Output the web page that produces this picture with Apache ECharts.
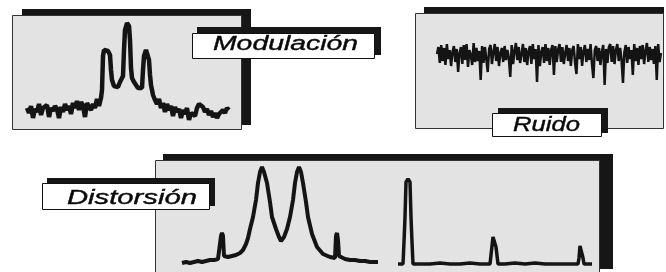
<!DOCTYPE html>
<html>
<head>
<meta charset="utf-8">
<script src="https://cdn.jsdelivr.net/npm/echarts@6/dist/echarts.min.js"></script>
<style>html,body{margin:0;padding:0;background:#fff}#c{width:666px;height:272px}</style>
</head>
<body>
<div id="c"></div>
<script>
// Panel titles
const titles = ['Modulación', 'Ruido', 'Distorsión'];

// Modulación trace: [frequency, amplitude]
const modulacionTrace = [
 [27,22],[29,17],[31,24],[33,12],[35,21],[37,18],[39,26],[41,15],[43,22],[45,20],[47,25],[49,13],[51,22],[53,19],[55,24],[57,21],[59,12],[61,23],[63,18],[65,26],[67,20],[69,24],[71,16],[73,27],[75,22],[77,29],[79,20],[81,28],[83,24],[85,13],[87,27],[89,23],[91,20],[93,26],[95,22],[97,31],[99,24],[101,32],[102,40],[103,74],[104,80],[106,82],[108,79],[110,75],[111,60],[112,50],[114,44],[116,46],[118,43],[120,48],[122,50],[123,54],[124,80],[125,100],[127,107],[129,104],[130,90],[131,62],[132,52],[134,48],[136,46],[138,42],[140,40],[142,42],[143,60],[144,74],[146,80],[148,78],[149,70],[150,55],[151,45],[153,35],[155,30],[157,26],[159,31],[161,22],[163,27],[165,18],[167,26],[169,20],[171,24],[173,14],[175,23],[177,18],[179,21],[181,12],[183,20],[185,16],[187,22],[189,10],[191,17],[193,19],[195,14],[197,22],[199,26],[201,24],[203,23],[205,18],[207,21],[209,15],[211,19],[213,13],[215,17],[217,12],[219,16],[221,14],[223,20],[225,17],[227,22],[229,20]
];

// Ruido trace: amplitude samples (evenly spaced in time)
const ruidoTrace = [
 2,9,-7,11,-5,8,-9,12,-3,6,
 -10,4,10,-6,7,-16,3,9,-8,11,
 -4,12,-11,6,1,-9,13,-6,8,-5,
 5,-24,10,-7,9,-3,-16,7,11,-8,
 4,12,-5,9,-10,3,8,-6,10,-4,
 6,-2,-21,11,-8,5,13,-4,9,-7,
 2,12,-6,8,-9,5,10,-8,12,-3,
 7,-26,11,-10,4,9,-7,12,-5,8,
 -9,6,11,-19,10,-6,7,12,-6,9,
 -8,3,11,-5,8,-10,6,10,-7,-18,
 12,-3,9,-10,5,11,-6,7,-4,12,
 -8,-22,6,10,-5,8,-9,4,11,-29,
 7,-7,9,12,-6,10,-8,6,12,-5,
 8,-4,-27,4,11,-7,9,-3,6,-19,
 12,-5,8,-9,10,-3,11,-8,5,13,
 -6,9,-4,7,-8,10,-24,12,-6,3
];

// Distorsión: two-tone intermodulation spectrum [frequency, amplitude]
const distorsionTwoTone = [
 [182,9],[186,10],[190,9],[194,10],[198,11],[202,10],[206,11],[210,12],[214,12],[218,13],[220,14],[221,36],[222,39],[223,36],[224,16],[228,15],[232,16],[236,17],[240,19],[243,22],[246,28],[248,34],[250,43],[253,55],[256,72],[258,89],[260,100],[262,105],[264,100],[267,89],[270,70],[272,55],[276,43],[279,35],[281,31],[284,35],[287,43],[290,55],[293,72],[295,89],[297,100],[299,105],[301,100],[303,89],[306,70],[308,55],[312,38],[317,25],[323,18],[330,15],[335,14],[336,36],[337,39],[338,32],[339,16],[345,13],[350,12],[355,12],[360,11],[365,11],[370,10],[378,10]
];

// Distorsión: harmonic spectrum [frequency, amplitude]
const distorsionHarmonics = [
 [398,8],[403,8],[404,30],[405,55],[406,90],[408,93],[410,90],[411,55],[412,30],[413,8],[420,8],[430,8],[440,9],[450,8],[460,8],[470,9],[480,8],[490,8],[492,8],[493,35],[495,35],[496,25],[497,25],[498,8],[505,8],[515,9],[525,8],[535,9],[545,8],[555,8],[565,8],[578,8],[579,14],[580,26],[582,26],[583,14],[584,8],[592,8]
];

const chart = echarts.init(document.getElementById('c'), null, {renderer: 'canvas'});

function measure(text, font) {
  const cv = document.createElement('canvas').getContext('2d');
  cv.font = font;
  return cv.measureText(text).width;
}

const labelSpecs = [
  {text: titles[0], x: 213, y: 44.5, w: 145, size: 20},
  {text: titles[1], x: 513, y: 125.5, w: 67, size: 20},
  {text: titles[2], x: 67, y: 198, w: 130, size: 21}
];

const dark = '#161616';
const panelFill = '#e3e3e3';
const graphics = [
  // panel shadows
  {type: 'rect', z: 0, shape: {x: 22, y: 9, width: 229, height: 116}, style: {fill: dark}},
  {type: 'rect', z: 0, shape: {x: 424, y: 7, width: 240, height: 116}, style: {fill: dark}},
  {type: 'rect', z: 0, shape: {x: 163, y: 154, width: 450, height: 115}, style: {fill: dark}},
  // panels
  {type: 'rect', z: 1, shape: {x: 12.5, y: 15.5, width: 229, height: 114}, style: {fill: panelFill, stroke: '#333', lineWidth: 1}},
  {type: 'rect', z: 1, shape: {x: 415.5, y: 13.5, width: 248, height: 115}, style: {fill: panelFill, stroke: '#333', lineWidth: 1}},
  {type: 'rect', z: 1, shape: {x: 155.5, y: 160.5, width: 444, height: 120}, style: {fill: panelFill, stroke: '#333', lineWidth: 1}},
  // label shadows
  {type: 'rect', z: 10, shape: {x: 197, y: 27, width: 184, height: 28}, style: {fill: dark}},
  {type: 'rect', z: 10, shape: {x: 498, y: 108, width: 110, height: 25}, style: {fill: dark}},
  {type: 'rect', z: 10, shape: {x: 47, y: 178, width: 168, height: 28}, style: {fill: dark}},
  // label boxes
  {type: 'rect', z: 11, shape: {x: 192.5, y: 33.5, width: 182, height: 25}, style: {fill: '#fff', stroke: '#111', lineWidth: 1}},
  {type: 'rect', z: 11, shape: {x: 492.5, y: 113.5, width: 109, height: 23}, style: {fill: '#fff', stroke: '#111', lineWidth: 1}},
  {type: 'rect', z: 11, shape: {x: 42.5, y: 183.5, width: 167, height: 26}, style: {fill: '#fff', stroke: '#111', lineWidth: 1}}
];
labelSpecs.forEach(function (s) {
  const font = 'italic ' + s.size + 'px "Liberation Sans", Arial, sans-serif';
  const sx = s.w / measure(s.text, font);
  graphics.push({
    type: 'text', z: 12, x: s.x, y: s.y, scaleX: sx,
    style: {text: s.text, x: 0, y: 0, font: font, fill: '#0a0a0a', stroke: '#0a0a0a', lineWidth: 0.4, verticalAlign: 'middle', align: 'left'}
  });
});

const option = {
  animation: false,
  backgroundColor: '#fff',
  grid: [
    {left: 12, top: 15, width: 230, height: 115},
    {left: 437, top: 13, width: 224, height: 116},
    {left: 155, top: 160, width: 445, height: 112}
  ],
  xAxis: [
    {gridIndex: 0, type: 'value', min: 12, max: 242, show: false},
    {gridIndex: 1, type: 'category', boundaryGap: false, show: false},
    {gridIndex: 2, type: 'value', min: 155, max: 600, show: false}
  ],
  yAxis: [
    {gridIndex: 0, type: 'value', min: 0, max: 115, show: false},
    {gridIndex: 1, type: 'value', min: -73, max: 43, show: false},
    {gridIndex: 2, type: 'value', min: 0, max: 112, show: false}
  ],
  graphic: {elements: graphics},
  series: [
    {type: 'line', name: titles[0], xAxisIndex: 0, yAxisIndex: 0, data: modulacionTrace, showSymbol: false, z: 5, lineStyle: {width: 4.5, color: '#141414', join: 'bevel'}},
    {type: 'line', name: titles[1], xAxisIndex: 1, yAxisIndex: 1, data: ruidoTrace, showSymbol: false, z: 5, lineStyle: {width: 2.5, color: '#141414', join: 'bevel'}},
    {type: 'line', name: titles[2], xAxisIndex: 2, yAxisIndex: 2, data: distorsionTwoTone, showSymbol: false, z: 5, lineStyle: {width: 4, color: '#141414', join: 'bevel'}},
    {type: 'line', name: titles[2] + ' armónicos', xAxisIndex: 2, yAxisIndex: 2, data: distorsionHarmonics, showSymbol: false, z: 5, lineStyle: {width: 3.5, color: '#141414', join: 'bevel'}}
  ]
};
chart.setOption(option);
</script>
</body>
</html>
